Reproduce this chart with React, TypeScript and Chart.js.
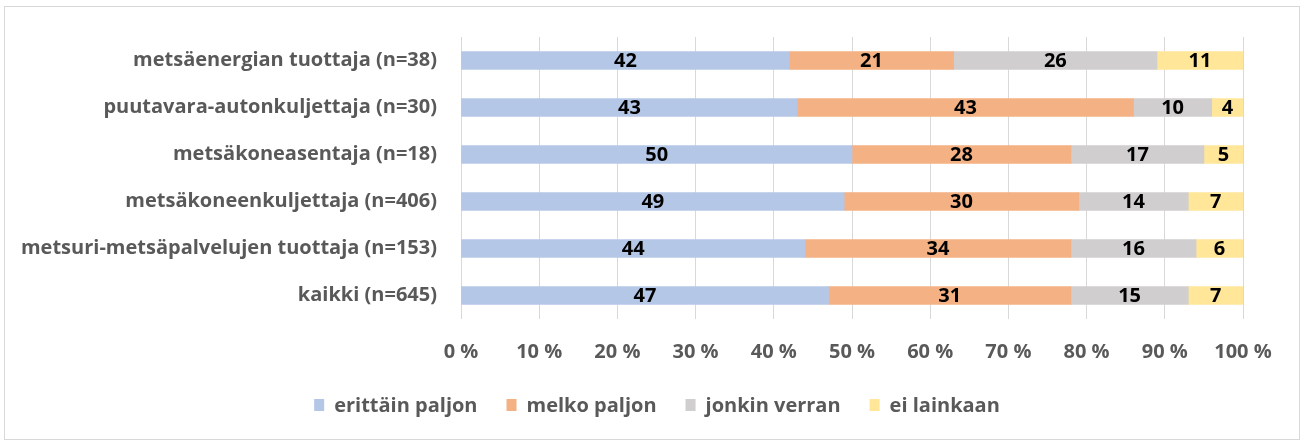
import React, { useEffect, useRef } from "react";
import { Chart, registerables } from "chart.js";

Chart.register(...registerables);

const categories = [
  "metsäenergian tuottaja (n=38)",
  "puutavara-autonkuljettaja (n=30)",
  "metsäkoneasentaja (n=18)",
  "metsäkoneenkuljettaja (n=406)",
  "metsuri-metsäpalvelujen tuottaja (n=153)",
  "kaikki (n=645)",
];

const seriesNames = ["erittäin paljon", "melko paljon", "jonkin verran", "ei lainkaan"];
const erittainPaljon = [42, 43, 50, 49, 44, 47];
const melkoPaljon = [21, 43, 28, 30, 34, 31];
const jonkinVerran = [26, 10, 17, 14, 16, 15];
const eiLainkaan = [11, 4, 5, 7, 6, 7];
const seriesColors = ["#B4C7E7", "#F4B183", "#D0CECE", "#FFE699"];
const xTicks = [0, 10, 20, 30, 40, 50, 60, 70, 80, 90, 100];

const FONT = "'Open Sans', Lato, sans-serif";

const dataLabelPlugin = {
  id: "dataLabels",
  afterDatasetsDraw(chart: any) {
    const ctx = chart.ctx;
    ctx.save();
    ctx.font = `bold 20px ${FONT}`;
    ctx.fillStyle = "#000000";
    ctx.textAlign = "center";
    ctx.textBaseline = "middle";
    chart.data.datasets.forEach((ds: any, di: number) => {
      const meta = chart.getDatasetMeta(di);
      meta.data.forEach((el: any, i: number) => {
        const v = ds.data[i];
        const cx = (el.x + el.base) / 2;
        ctx.fillText(String(v), cx, el.y + 1);
      });
    });
    ctx.restore();
  },
};

const customLegendPlugin = {
  id: "customLegend",
  afterDraw(chart: any) {
    const ctx = chart.ctx;
    const boxW = 10;
    const boxH = 12;
    const boxGap = 10;
    const itemGap = 29;
    const cy = 398;
    const centerX = 652;
    ctx.save();
    ctx.font = `bold 20px ${FONT}`;
    ctx.textBaseline = "middle";
    ctx.textAlign = "left";
    const items = chart.data.datasets.map((ds: any) => ({
      text: ds.label,
      color: ds.backgroundColor,
      w: ctx.measureText(ds.label).width,
    }));
    const total =
      items.reduce((s: number, it: any) => s + boxW + boxGap + it.w, 0) +
      itemGap * (items.length - 1);
    let x = centerX - total / 2;
    items.forEach((it: any) => {
      ctx.fillStyle = it.color;
      ctx.fillRect(x, cy - boxH / 2, boxW, boxH);
      ctx.fillStyle = "#595959";
      ctx.fillText(it.text, x + boxW + boxGap, cy + 1);
      x += boxW + boxGap + it.w + itemGap;
    });
    ctx.restore();
  },
};

export default function App() {
  const ref = useRef<HTMLCanvasElement | null>(null);
  useEffect(() => {
    if (!ref.current) return;
    const values = [erittainPaljon, melkoPaljon, jonkinVerran, eiLainkaan];
    const chart = new Chart(ref.current, {
      type: "bar",
      data: {
        labels: categories,
        datasets: seriesNames.map((name, i) => ({
          label: name,
          data: values[i],
          backgroundColor: seriesColors[i],
          borderWidth: 0,
          barThickness: 18,
        })),
      },
      options: {
        indexAxis: "y",
        animation: false,
        responsive: false,
        maintainAspectRatio: false,
        layout: { padding: { top: 30, right: 56, left: 0, bottom: 56 } },
        scales: {
          x: {
            stacked: true,
            min: 0,
            max: 100,
            afterBuildTicks: (scale: any) => {
              scale.ticks = xTicks.map((v) => ({ value: v }));
            },
            afterFit: (scale: any) => {
              scale.height = 64;
              scale.paddingLeft = 0;
              scale.paddingRight = 0;
            },
            grid: { color: "#D9D9D9", lineWidth: 1, drawTicks: false },
            border: { display: false },
            ticks: {
              padding: 21,
              color: "#595959",
              font: { family: FONT, size: 20, weight: "bold" },
              callback: (v: any) => `${v} %`,
            },
          },
          y: {
            stacked: true,
            afterFit: (scale: any) => {
              scale.width = 456;
              scale.paddingTop = 0;
              scale.paddingBottom = 0;
            },
            grid: { display: false, drawTicks: false },
            border: { display: false },
            ticks: {
              padding: 24,
              color: "#595959",
              font: { family: FONT, size: 20, weight: "bold" },
            },
          },
        },
        plugins: {
          legend: { display: false },
          tooltip: { enabled: false },
        },
      },
      plugins: [dataLabelPlugin, customLegendPlugin],
    } as any);
    return () => chart.destroy();
  }, []);

  return (
    <div
      style={{
        position: "absolute",
        left: 4,
        top: 6,
        width: 1296,
        height: 434,
        border: "1px solid #D9D9D9",
        boxSizing: "border-box",
        background: "#ffffff",
      }}
    >
      <canvas ref={ref} width={1294} height={432} style={{ display: "block" }} />
    </div>
  );
}
